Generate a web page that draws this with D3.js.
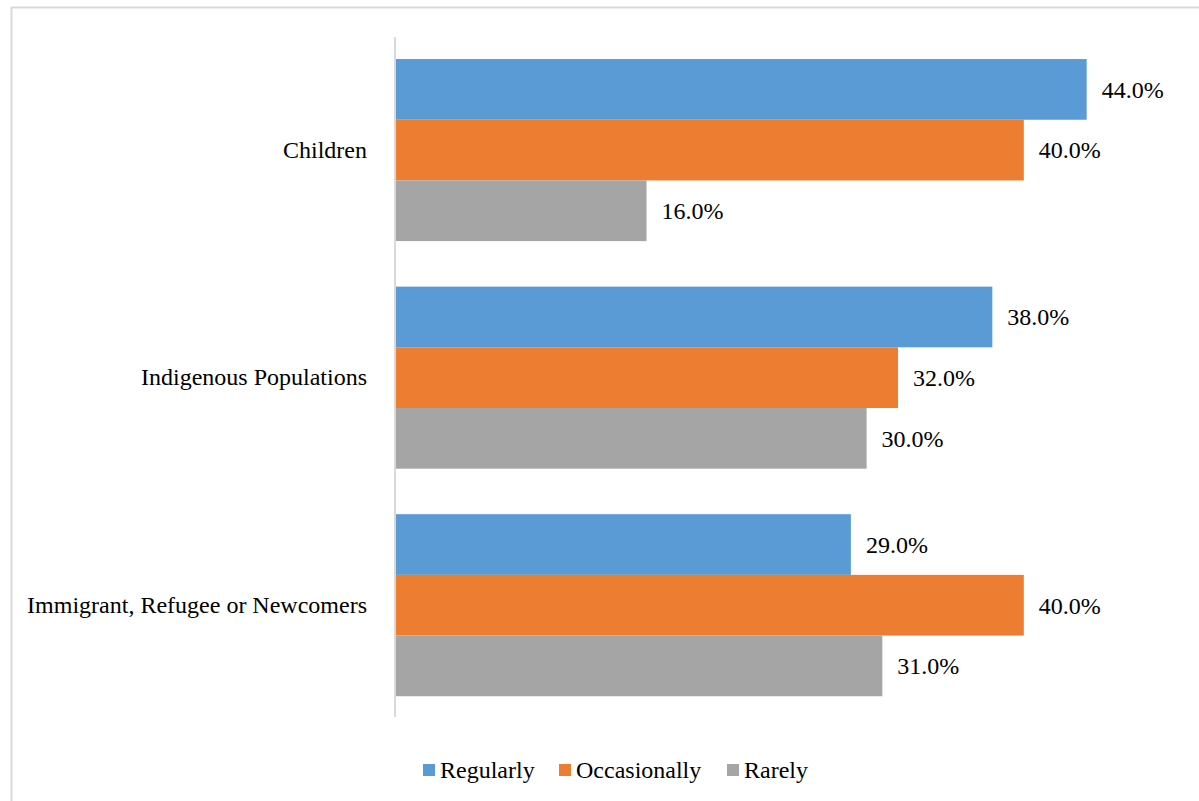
<!DOCTYPE html>
<html>
<head>
<meta charset="utf-8">
<script src="https://cdn.jsdelivr.net/npm/d3@7"></script>
<style>
  html, body { margin: 0; padding: 0; background: #fff; }
  svg { display: block; }
  svg text { font-family: "Liberation Serif", "Times New Roman", serif !important; fill: #000; }
</style>
</head>
<body>
<svg id="chart" width="1199" height="801"></svg>
<script>
const categories = ["Children", "Indigenous Populations", "Immigrant, Refugee or Newcomers"];
const seriesNames = ["Regularly", "Occasionally", "Rarely"];
const regularly = [44.0, 38.0, 29.0];
const occasionally = [40.0, 32.0, 40.0];
const rarely = [16.0, 30.0, 31.0];
const colors = ["#5B9BD5", "#ED7D31", "#A5A5A5"];

const seriesValues = [regularly, occasionally, rarely];
const rows = categories.map((c, i) => ({
  category: c,
  values: seriesNames.map((s, j) => ({ series: s, value: seriesValues[j][i], color: colors[j] }))
}));

const FS = 24;
const svg = d3.select("#chart");

// outer chart border
svg.append("rect")
  .attr("x", 11.5).attr("y", 7.5)
  .attr("width", 1199).attr("height", 801)
  .attr("fill", "none").attr("stroke", "#d9d9d9").attr("stroke-width", 2);

const x = d3.scaleLinear().domain([0, 50]).range([395, 1181]);
const y0 = d3.scaleBand().domain(categories).range([36.3, 719]).paddingInner(0.2).paddingOuter(0.1);
const y1 = d3.scaleBand().domain(seriesNames).range([0, y0.bandwidth()]).padding(0);

const groups = svg.append("g").selectAll("g")
  .data(rows).join("g")
  .attr("transform", d => `translate(0,${y0(d.category)})`);

groups.selectAll("rect")
  .data(d => d.values).join("rect")
  .attr("x", x(0))
  .attr("y", d => y1(d.series))
  .attr("width", d => x(d.value) - x(0))
  .attr("height", y1.bandwidth())
  .attr("fill", d => d.color);

groups.selectAll("text.val")
  .data(d => d.values).join("text")
  .attr("class", "val")
  .attr("x", d => x(d.value) + 15)
  .attr("y", d => y1(d.series) + y1.bandwidth() / 2)
  .attr("dy", "0.35em")
  .attr("font-size", FS)
  .text(d => d.value.toFixed(1) + "%");

// category axis
const yAxis = d3.axisLeft(y0).tickSize(0).tickPadding(28);
const ax = svg.append("g").attr("transform", `translate(${x(0)},0)`).call(yAxis);
ax.select(".domain").remove();
ax.selectAll("text").attr("font-size", FS).attr("fill", "#000");
svg.append("line")
  .attr("x1", x(0)).attr("x2", x(0))
  .attr("y1", 37).attr("y2", 717)
  .attr("stroke", "#d9d9d9").attr("stroke-width", 2);

// legend
const legendX = [423, 559, 727];
const legend = svg.append("g").selectAll("g")
  .data(seriesNames).join("g")
  .attr("transform", (d, i) => `translate(${legendX[i]},764)`);
legend.append("rect")
  .attr("width", 12).attr("height", 12)
  .attr("fill", (d, i) => colors[i]);
legend.append("text")
  .attr("x", 17).attr("y", 6).attr("dy", "0.35em")
  .attr("font-size", FS)
  .text(d => d);
</script>
</body>
</html>
